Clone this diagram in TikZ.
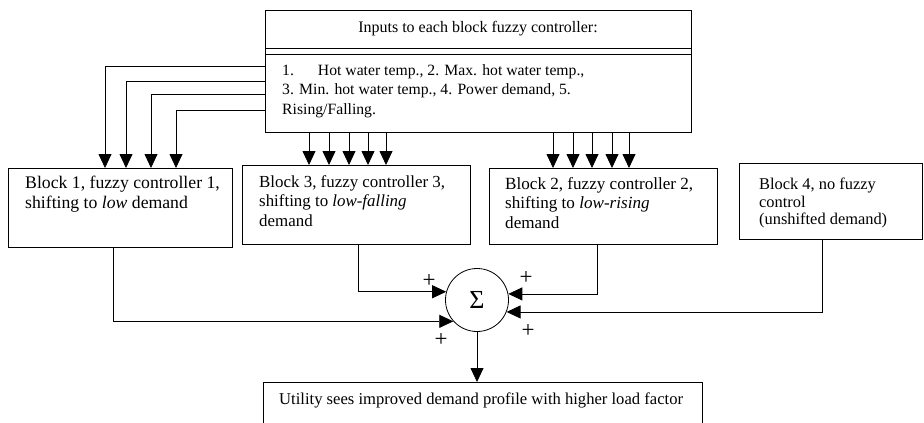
\documentclass[tikz,border=0pt]{standalone}
\usepackage{fontspec}
\setmainfont{Liberation Serif}
\usetikzlibrary{arrows.meta,calc}
\newcommand{\fsz}[1]{\fontsize{#1}{19.5}\selectfont}
\tikzset{
  boxframe/.style={draw, line width=0.8pt, inner sep=0pt, anchor=north west},
  txt/.style={font=\fsz{17}, inner sep=0pt, anchor=north west, align=left},
  plus/.style={font=\fontsize{23}{23}\selectfont, inner sep=0pt},
  feed/.style={line width=0.8pt, -{Triangle[length=14pt,width=13pt]}},
}
\begin{document}
\begin{tikzpicture}[x=1pt, y=-1pt]
\clip (0,0) rectangle (924,423);

% input box with its double rule under the heading
\node[boxframe, minimum width=426pt, minimum height=122pt] (inputs) at (265,10) {};
\draw[line width=0.8pt] (inputs.west |- 0,48) -- (inputs.east |- 0,48);
\draw[line width=0.8pt] (inputs.west |- 0,54) -- (inputs.east |- 0,54);
\node[txt, font=\fsz{16}, anchor=center] (hdr) at (478,29) {Inputs to each block fuzzy controller:};
\node[txt, font=\fsz{15.7}] (lst) at (282,64) {1.\hspace{24pt}Hot water temp., 2. Max. hot water temp.,\\3. Min. hot water temp., 4. Power demand, 5.\\Rising/Falling.};

% controller blocks
\node[boxframe, minimum width=224pt, minimum height=79pt] (b1) at (8,168) {};
\node[txt, font=\fsz{17.7}] (b1t) at (25,176) {Block 1, fuzzy controller 1,\\shifting to \textit{low} demand};
\node[boxframe, minimum width=228pt, minimum height=79pt] (b3) at (242,165) {};
\node[txt, font=\fsz{16.9}] (b3t) at (259,175) {Block 3, fuzzy controller 3,\\shifting to \textit{low-falling}\\demand};
\node[boxframe, minimum width=228pt, minimum height=76pt] (b2) at (489,168) {};
\node[txt, font=\fsz{17.1}] (b2t) at (505,177) {Block 2, fuzzy controller 2,\\shifting to \textit{low-rising}\\demand};
\node[boxframe, minimum width=183pt, minimum height=76pt] (b4) at (739,163) {};
\node[txt, font=\fontsize{16.4}{17.5}\selectfont] (b4t) at (759,178) {Block 4, no fuzzy\\control\\(unshifted demand)};

% summing junction
\node[draw, circle, line width=0.8pt, minimum size=63pt, inner sep=0pt,
      font=\fontsize{26}{26}\selectfont] (sum) at (477,300) {Σ};

% utility box (runs off the bottom edge)
\node[boxframe, minimum width=439pt, minimum height=55pt] (util) at (263,382) {};
\node[txt, font=\fsz{16.6}, anchor=west] (utilt) at (279,400) {Utility sees improved demand profile with higher load factor};

% inputs fanned out to block 1
\draw[feed] (inputs.west |- 0,66) -| (b1.north -| 105,0);
\draw[feed] (inputs.west |- 0,81) -| (b1.north -| 126,0);
\draw[feed] (inputs.west |- 0,94) -| (b1.north -| 151,0);
\draw[feed] (inputs.west |- 0,110) -| (b1.north -| 176,0);

% inputs to blocks 3 and 2
\foreach \x in {309,329,349,368,386}
  \draw[feed] (inputs.south -| \x,0) -- (b3.north -| \x,0);
\foreach \x in {553,573,592,612,629}
  \draw[feed] (inputs.south -| \x,0) -- (b2.north -| \x,0);

% block outputs into the sum
\draw[feed] (b1.south -| 113,0) |- (sum.222);
\draw[feed] (b3.south -| 358,0) |- (sum.165);
\draw[feed] (b2.south -| 597,0) |- (sum.11);
\draw[feed] (b4.south -| 822,0) |- (sum.-22);
\draw[feed] (sum.south) -- (sum.south |- util.north);

% signs on the sum inputs
\node[plus] (p1) at (429,281) {+};
\node[plus] (p2) at (441,340) {+};
\node[plus] (p3) at (526,278) {+};
\node[plus] (p4) at (528,331) {+};
\end{tikzpicture}
\end{document}
